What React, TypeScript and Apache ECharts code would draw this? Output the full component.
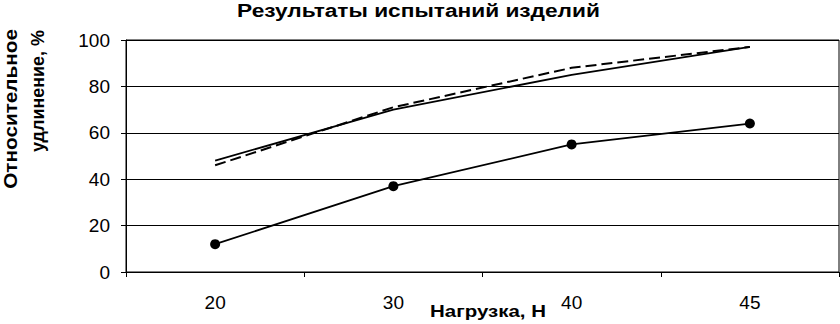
import React, { useEffect, useRef } from "react";
import * as echarts from "echarts";

const TITLE = "Результаты испытаний изделий";
const X_NAME = "Нагрузка, Н";
const Y_NAME_1 = "Относительное";
const Y_NAME_2 = "удлинение, %";

const categories = ["20", "30", "40", "45"];
const markedSeries = [12, 37, 55, 64];
const solidSeries = [48, 70, 85, 97];
const dashedSeries = [46, 71, 88, 97];

const FONT = '"Liberation Sans", Arial, sans-serif';

function measure(text: string, font: string): number {
  const c = document.createElement("canvas");
  const ctx = c.getContext("2d");
  if (!ctx) return text.length * 10;
  ctx.font = font;
  return ctx.measureText(text).width;
}

export default function App() {
  const ref = useRef<HTMLDivElement>(null);
  useEffect(() => {
    if (!ref.current) return;
    const chart = echarts.init(ref.current, undefined, { renderer: "svg" });

    const titleFont = `bold 18px ${FONT}`;
    const xNameFont = `bold 16px ${FONT}`;
    const yNameFont = `bold 18px ${FONT}`;
    const sTitle = 363 / measure(TITLE, titleFont);
    const sX = 116 / measure(X_NAME, xNameFont);
    const sY1 = 160 / measure(Y_NAME_1, yNameFont);
    const sY2 = 122 / measure(Y_NAME_2, yNameFont);

    const txt = (text: string, font: string, align: string) => ({
      text,
      font,
      fill: "#000",
      textAlign: align,
      align,
      textVerticalAlign: "middle",
      verticalAlign: "middle",
    });

    chart.setOption({
      animation: false,
      backgroundColor: "#fff",
      grid: {
        left: 126,
        right: 1,
        top: 40,
        bottom: 52,
        show: true,
        borderColor: "#000",
        borderWidth: 1,
        backgroundColor: "transparent",
      },
      xAxis: {
        type: "category",
        data: categories,
        boundaryGap: true,
        axisLine: { show: true, lineStyle: { color: "#000", width: 1 } },
        axisTick: { show: true, length: 5, interval: 0, alignWithLabel: false, lineStyle: { color: "#000" } },
        axisLabel: { fontSize: 19, fontFamily: FONT, color: "#000", margin: 21, interval: 0 },
        splitLine: { show: false },
      },
      yAxis: {
        type: "value",
        min: 0,
        max: 100,
        interval: 20,
        axisLine: { show: true, lineStyle: { color: "#000", width: 1 } },
        axisTick: { show: true, length: 5, lineStyle: { color: "#000" } },
        axisLabel: { fontSize: 19, fontFamily: FONT, color: "#000", margin: 16 },
        splitLine: { show: true, lineStyle: { color: "#000", width: 1 } },
      },
      series: [
        {
          type: "line",
          data: markedSeries,
          symbol: "circle",
          symbolSize: 10,
          itemStyle: { color: "#000" },
          lineStyle: { color: "#000", width: 1.8 },
        },
        {
          type: "line",
          data: solidSeries,
          symbol: "none",
          lineStyle: { color: "#000", width: 1.8 },
        },
        {
          type: "line",
          data: dashedSeries,
          symbol: "none",
          lineStyle: { color: "#000", width: 2, type: [11, 5] },
        },
      ],
      graphic: [
        {
          type: "text",
          x: 418.5,
          y: 10.5,
          scaleX: sTitle,
          style: txt(TITLE, titleFont, "center"),
        },
        {
          type: "text",
          x: 488,
          y: 311.5,
          scaleX: sX,
          style: txt(X_NAME, xNameFont, "center"),
        },
        {
          type: "text",
          x: 11,
          y: 29,
          rotation: Math.PI / 2,
          scaleX: sY1,
          style: txt(Y_NAME_1, yNameFont, "right"),
        },
        {
          type: "text",
          x: 38,
          y: 30,
          rotation: Math.PI / 2,
          scaleX: sY2,
          style: txt(Y_NAME_2, yNameFont, "right"),
        },
      ],
    });
    return () => chart.dispose();
  }, []);

  return (
    <div
      ref={ref}
      style={{ position: "fixed", left: 0, top: 0, width: 840, height: 324, background: "#fff" }}
    />
  );
}
